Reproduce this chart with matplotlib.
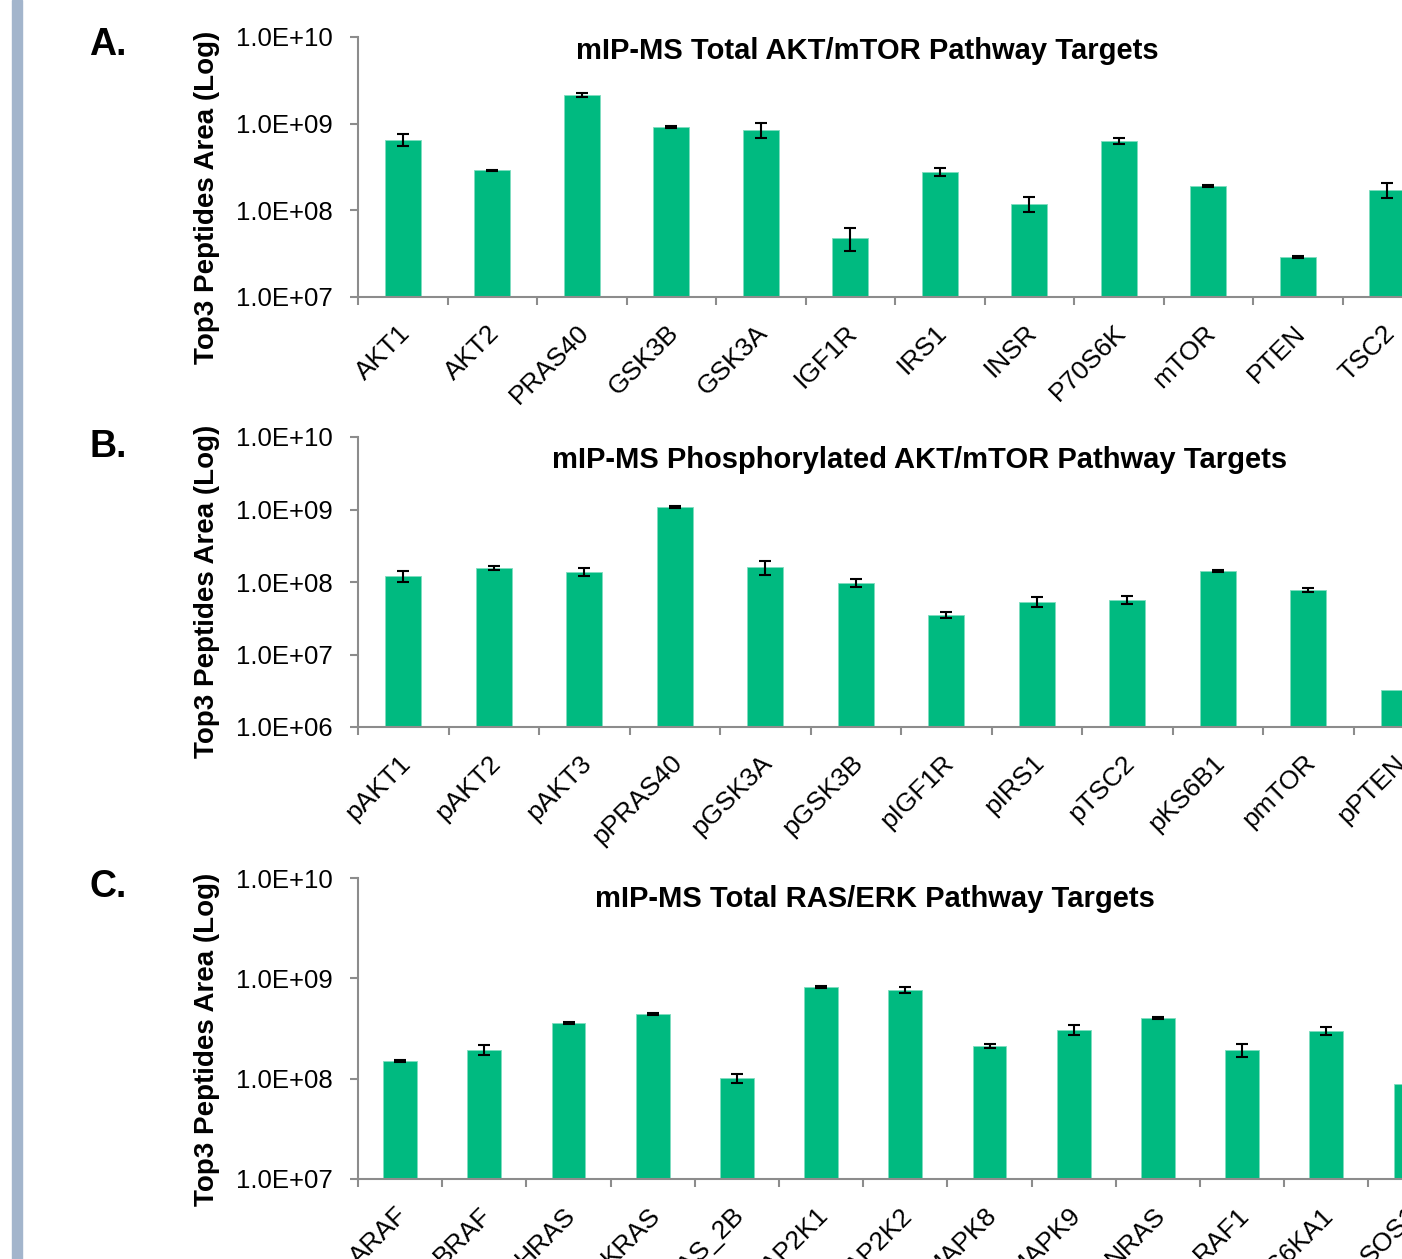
import numpy as np
import matplotlib.pyplot as plt
from matplotlib.patches import Rectangle
from matplotlib.transforms import ScaledTranslation

plt.rcParams['font.family'] = ['Liberation Sans', 'DejaVu Sans']

# panel A: total AKT/mTOR
a_names = ['AKT1', 'AKT2', 'PRAS40', 'GSK3B', 'GSK3A', 'IGF1R', 'IRS1', 'INSR',
           'P70S6K', 'mTOR', 'PTEN', 'TSC2']
a_vals = [6.5e8, 2.9e8, 2.14e9, 9.2e8, 8.45e8, 4.8e7, 2.77e8, 1.19e8,
          6.3e8, 1.91e8, 2.9e7, 1.72e8]
a_err = [1.0e8, 5e6, 1.1e8, 2.5e7, 1.6e8, 1.4e7, 3e7, 2.3e7,
         5e7, 5e6, 5e5, 3.3e7]

# panel B: phosphorylated AKT/mTOR
b_names = ['pAKT1', 'pAKT2', 'pAKT3', 'pPRAS40', 'pGSK3A', 'pGSK3B', 'pIGF1R',
           'pIRS1', 'pTSC2', 'pKS6B1', 'pmTOR', 'pPTEN']
b_vals = [1.21e8, 1.56e8, 1.37e8, 1.08e9, 1.61e8, 9.7e7, 3.5e7,
          5.3e7, 5.65e7, 1.42e8, 7.8e7, 3.2e6]
b_err = [2e7, 1e7, 1.7e7, 3.5e7, 3.6e7, 1.2e7, 3.4e6,
         8.5e6, 7e6, 4.5e6, 5e6, 0]

# panel C: total RAS/ERK
c_names = ['ARAF', 'BRAF', 'HRAS', 'KRAS', 'KRAS_2B', 'MAP2K1', 'MAP2K2',
           'MAPK8', 'MAPK9', 'NRAS', 'RAF1', 'RPS6KA1', 'SOS1']
c_vals = [1.5e8, 1.93e8, 3.58e8, 4.4e8, 1.01e8, 8.2e8, 7.6e8,
          2.11e8, 3.05e8, 4.02e8, 1.93e8, 2.98e8, 8.8e7]
c_err = [3.5e6, 2.2e7, 8e6, 1e7, 9.5e6, 1.9e7, 5.3e7,
         1e7, 3.5e7, 9e6, 2.8e7, 2.8e7, 0]

W, H = 1402, 1259
GREEN = '#00ba80'
GREY = '#8c8c8c'

fig = plt.figure(figsize=(W / 100, H / 100), dpi=100)
fig.patches.append(Rectangle((12 / W, 0), 10 / W, 1, transform=fig.transFigure,
                             color='#a3b5cc', zorder=0))


def fx(px):
    return px / W


def fy(py):
    return 1 - py / H


def panel(top, bottom, names, vals, err, step, yexp, title, title_xy, letter, letter_y, label_y):
    # the panels run past the right edge of the picture, as in the cropped original
    n = len(names)
    ax = fig.add_axes([fx(358), fy(bottom), n * step / W, (bottom - top) / H])
    x = np.arange(n)
    vals = np.array(vals)
    err = np.array(err)
    ax.bar(x, vals, width=0.4, color=GREEN, edgecolor='#7fdcbf', linewidth=0.6, zorder=2)
    has = err > 0
    ax.errorbar(x[has], vals[has], yerr=err[has], fmt='none', ecolor='black',
                elinewidth=1.5, capsize=4.5, capthick=1.5, zorder=3)
    ax.set_yscale('log')
    ax.set_yticks([10.0 ** e for e in yexp])
    ax.set_yticklabels(['1.0E+%02d' % e for e in yexp])
    ax.yaxis.set_minor_locator(plt.NullLocator())
    ax.set_ylim(10.0 ** yexp[0], 10.0 ** yexp[-1])
    ax.set_xticks(x)
    ax.set_xticklabels(names, rotation=45, ha='right', va='top', rotation_mode='anchor')
    ax.set_xticks(np.arange(n + 1) - 0.5, minor=True)
    ax.set_xlim(-0.5, n - 0.5)
    ax.tick_params(axis='x', which='major', length=0, pad=17, labelsize=19)
    ax.tick_params(axis='x', which='minor', length=6, width=1.5, color=GREY)
    ax.tick_params(axis='y', length=6, width=1.5, color=GREY, labelsize=18.5, pad=12)
    shift = ScaledTranslation(-5 / 100, 0, fig.dpi_scale_trans)
    for lab in ax.get_xticklabels():
        lab.set_transform(lab.get_transform() + shift)
    for s in ['top', 'right']:
        ax.spines[s].set_visible(False)
    for s in ['left', 'bottom']:
        ax.spines[s].set_color(GREY)
        ax.spines[s].set_linewidth(1.5)
    fig.text(fx(title_xy[0]), fy(title_xy[1]), title, ha='center', va='center',
             fontsize=21, fontweight='bold')
    fig.text(fx(108), fy(letter_y), letter, ha='center', va='center',
             fontsize=27, fontweight='bold')
    fig.text(fx(207), fy(label_y), 'Top3 Peptides Area (Log)', ha='center', va='center',
             rotation=90, fontsize=20, fontweight='bold')
    return ax


panel(37, 297, a_names, a_vals, a_err, 89.5, [7, 8, 9, 10],
      'mIP-MS Total AKT/mTOR Pathway Targets', (867, 51), 'A.', 45, 197)
panel(437, 727, b_names, b_vals, b_err, 90.5, [6, 7, 8, 9, 10],
      'mIP-MS Phosphorylated AKT/mTOR Pathway Targets', (920, 460), 'B.', 447, 591)
panel(878, 1179, c_names, c_vals, c_err, 84.2, [7, 8, 9, 10],
      'mIP-MS Total RAS/ERK Pathway Targets', (875, 899), 'C.', 887, 1039)

fig.savefig('out.png', dpi=100)
